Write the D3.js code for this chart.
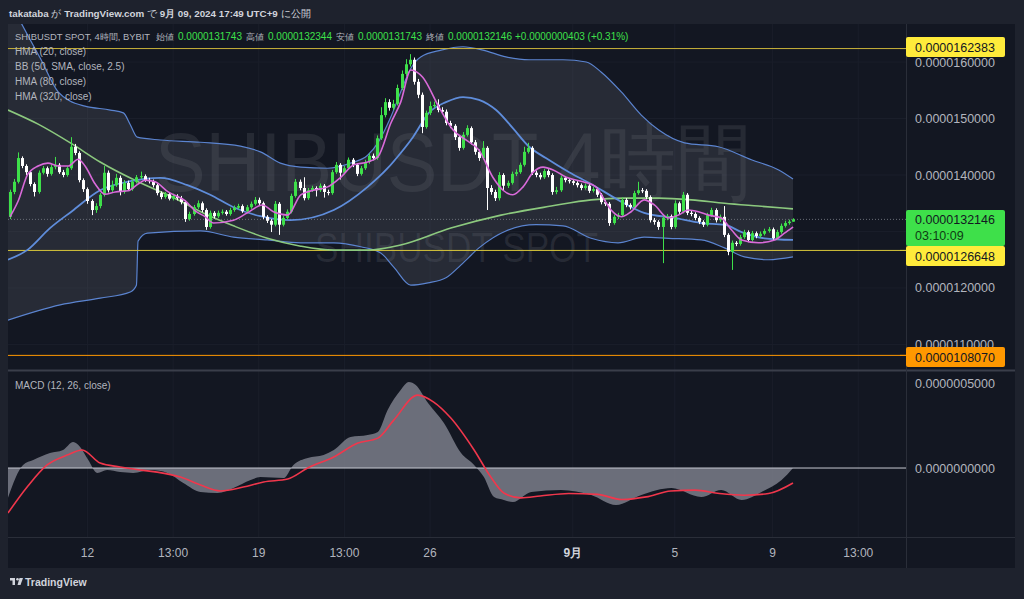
<!DOCTYPE html>
<html>
<head>
<meta charset="utf-8">
<script src="https://cdn.jsdelivr.net/npm/d3@7"></script>
<style>
  html, body { margin: 0; padding: 0; background: #1e222d; }
  svg { display: block; }
  text { font-family: "Liberation Sans", Arial, sans-serif; }
</style>
</head>
<body>
<div id="chart"></div>
<script>
// ─── Data (prices in units of 1e-6, MACD in units of 1e-7) ───────────────

// 4h candles, index 0 = Aug 8 21:00 ... 192 = Sep 9 17:00 (UTC+9)
const firstOpen = 13.26;
const closes = [
  13.70, 13.88, 14.30, 14.16, 14.05, 13.84, 13.70, 14.04, 14.12, 14.02,
  14.14, 14.18, 14.05, 14.00, 14.12, 14.50, 14.39, 13.91, 13.75, 13.54,
  13.38, 13.45, 13.65, 14.04, 13.73, 13.82, 13.95, 13.70, 13.86, 13.75,
  13.88, 13.96, 13.98, 13.91, 13.89, 13.82, 13.68, 13.61, 13.66, 13.58,
  13.63, 13.59, 13.52, 13.22, 13.31, 13.43, 13.50, 13.38, 13.08, 13.33,
  13.27, 13.33, 13.35, 13.31, 13.38, 13.42, 13.45, 13.36, 13.43, 13.49,
  13.56, 13.50, 13.26, 13.19, 13.12, 13.49, 13.12, 13.24, 13.35, 13.63,
  13.88, 13.77, 13.59, 13.73, 13.77, 13.73, 13.81, 13.70, 13.68, 14.05,
  14.18, 14.04, 14.12, 14.27, 14.18, 14.02, 14.12, 14.23, 14.34, 14.30,
  14.65, 15.06, 15.29, 15.19, 15.26, 15.54, 15.79, 15.96, 16.04, 15.65,
  15.42, 14.85, 15.10, 15.22, 15.24, 15.15, 15.12, 14.92, 14.87, 14.67,
  14.48, 14.71, 14.83, 14.58, 14.41, 14.30, 14.48, 13.77, 13.70, 13.59,
  14.00, 13.81, 13.86, 14.02, 14.05, 14.18, 14.41, 14.48, 14.04, 14.00,
  13.96, 14.07, 14.00, 13.70, 13.73, 13.95, 13.91, 13.89, 13.86, 13.82,
  13.77, 13.81, 13.72, 13.75, 13.65, 13.52, 13.49, 13.15, 13.26, 13.29,
  13.56, 13.47, 13.43, 13.68, 13.73, 13.72, 13.61, 13.20, 13.17, 13.08,
  13.24, 13.27, 13.08, 13.50, 13.35, 13.65, 13.33, 13.31, 13.24, 13.17,
  13.12, 13.29, 13.38, 13.20, 13.26, 12.94, 12.64, 12.80, 12.78, 12.90,
  12.99, 12.85, 12.97, 12.92, 12.96, 13.01, 13.04, 12.88, 12.99, 13.10,
  13.15, 13.1743, 13.2146
];
const highs = [
  13.74, 13.93, 14.40, 14.33, 14.19, 14.08, 13.87, 14.08, 14.16, 14.15,
  14.18, 14.32, 14.21, 14.09, 14.15, 14.67, 14.55, 14.42, 13.94, 13.78,
  13.57, 13.50, 13.68, 14.16, 14.08, 13.90, 14.02, 13.99, 13.91, 13.90,
  13.93, 14.00, 14.06, 14.01, 13.95, 13.92, 13.85, 13.71, 13.70, 13.69,
  13.67, 13.66, 13.63, 13.55, 13.35, 13.47, 13.55, 13.53, 13.41, 13.37,
  13.36, 13.37, 13.39, 13.38, 13.42, 13.46, 13.49, 13.48, 13.47, 13.53,
  13.61, 13.60, 13.53, 13.29, 13.22, 13.54, 13.52, 13.28, 13.39, 13.67,
  13.93, 13.92, 13.96, 13.77, 13.81, 13.80, 13.85, 13.84, 13.74, 14.09,
  14.23, 14.21, 14.16, 14.31, 14.30, 14.21, 14.16, 14.27, 14.38, 14.38,
  14.70, 15.20, 15.36, 15.34, 15.33, 15.60, 15.85, 16.05, 16.14, 16.08,
  15.70, 15.46, 15.14, 15.30, 15.30, 15.34, 15.20, 15.16, 14.96, 14.90,
  14.70, 14.76, 14.88, 14.86, 14.62, 14.45, 14.60, 14.51, 13.82, 13.74,
  14.05, 14.03, 13.90, 14.06, 14.10, 14.22, 14.50, 14.57, 14.51, 14.08,
  14.04, 14.11, 14.10, 14.03, 13.79, 13.99, 13.98, 13.94, 13.92, 13.89,
  13.85, 13.85, 13.84, 13.79, 13.78, 13.68, 13.56, 13.52, 13.30, 13.33,
  13.60, 13.59, 13.50, 13.72, 13.88, 13.77, 13.75, 13.64, 13.24, 13.20,
  13.28, 13.31, 13.30, 13.55, 13.53, 13.70, 13.68, 13.37, 13.34, 13.27,
  13.20, 13.33, 13.42, 13.41, 13.30, 13.45, 12.97, 12.84, 12.83, 12.94,
  13.03, 13.02, 13.01, 13.00, 13.00, 13.05, 13.08, 13.07, 13.03, 13.14,
  13.19, 13.21, 13.2344
];
const lows = [
  13.22, 13.66, 13.85, 14.12, 14.00, 13.80, 13.62, 13.67, 14.01, 13.97,
  13.99, 14.10, 14.02, 13.96, 13.97, 14.09, 14.35, 13.87, 13.70, 13.49,
  13.29, 13.33, 13.41, 13.62, 13.69, 13.70, 13.79, 13.64, 13.67, 13.72,
  13.72, 13.85, 13.93, 13.88, 13.85, 13.78, 13.64, 13.57, 13.58, 13.55,
  13.55, 13.55, 13.48, 13.17, 13.19, 13.28, 13.40, 13.34, 13.03, 13.05,
  13.23, 13.24, 13.30, 13.28, 13.28, 13.35, 13.39, 13.33, 13.33, 13.40,
  13.46, 13.47, 13.22, 13.15, 12.99, 13.09, 12.94, 13.09, 13.21, 13.32,
  13.60, 13.73, 13.55, 13.56, 13.70, 13.62, 13.70, 13.60, 13.64, 13.65,
  14.02, 13.92, 14.01, 14.09, 14.14, 13.98, 13.99, 14.09, 14.20, 14.26,
  14.27, 14.62, 15.02, 15.14, 15.15, 15.23, 15.50, 15.75, 15.92, 15.60,
  15.36, 14.74, 14.82, 15.06, 15.19, 15.11, 15.08, 14.88, 14.83, 14.62,
  14.43, 14.45, 14.68, 14.54, 14.36, 14.25, 14.27, 13.38, 13.65, 13.54,
  13.55, 13.72, 13.77, 13.83, 13.98, 14.02, 14.15, 14.38, 14.00, 13.96,
  13.92, 13.93, 13.96, 13.65, 13.66, 13.70, 13.87, 13.85, 13.82, 13.78,
  13.73, 13.74, 13.68, 13.69, 13.61, 13.48, 13.45, 13.10, 13.12, 13.22,
  13.26, 13.43, 13.39, 13.40, 13.65, 13.68, 13.57, 13.16, 13.12, 13.03,
  12.44, 13.20, 13.04, 13.05, 13.31, 13.32, 13.29, 13.27, 13.20, 13.13,
  13.08, 13.09, 13.26, 13.16, 13.17, 12.90, 12.58, 12.32, 12.74, 12.75,
  12.87, 12.81, 12.82, 12.88, 12.89, 12.93, 12.98, 12.84, 12.85, 12.96,
  13.07, 13.12, 13.1743
];

// Indicator lines as [candle index, value]
const bbUpper = [
  [-0.5, 17.15], [2.9, 16.67], [7.4, 16.07], [11.8, 15.47], [14.7, 15.31], [18.4, 15.22],
  [24.6, 15.15], [27.8, 15.10], [29.5, 14.89], [31.2, 14.67], [36.9, 14.62], [46.7, 14.58],
  [56.5, 14.51], [61.4, 14.41], [66.3, 14.21], [71.3, 14.14], [77.9, 14.12], [83.5, 14.21],
  [87.7, 14.35], [90.2, 14.57], [93.4, 15.03], [95.8, 15.47], [98.3, 15.89], [100.7, 16.09],
  [105.7, 16.21], [111.1, 16.27], [116, 16.21], [121.6, 16.09], [127.3, 16.04], [135.6, 16.04],
  [141.3, 16.00], [145, 15.82], [149.9, 15.47], [154.8, 15.06], [159, 14.80], [165.4, 14.57],
  [173.7, 14.50], [181.8, 14.27], [188.5, 14.09], [192, 13.93]
];
const bbLower = [
  [-0.5, 11.43], [12.3, 11.70], [22.1, 11.82], [29.5, 11.93], [31, 12.05], [31.4, 12.83],
  [33.7, 12.97], [46.7, 13.01], [54.8, 12.90], [63.1, 12.85], [71.3, 12.80], [79.4, 12.80],
  [86, 12.73], [90.9, 12.62], [94.1, 12.37], [98.3, 12.05], [102.5, 12.09], [106.9, 12.18],
  [110.6, 12.41], [115, 12.71], [121.6, 13.01], [129, 13.12], [135.6, 13.10], [142.5, 12.88],
  [149.1, 12.80], [155.5, 12.90], [161.4, 12.88], [169.5, 12.85], [175.2, 12.71], [180.1, 12.55],
  [186, 12.50], [192, 12.55]
];
const hma80 = [
  [-0.5, 12.50], [4.2, 12.67], [9.8, 13.06], [15.2, 13.36], [22.1, 13.73], [29.5, 13.89],
  [36.9, 13.95], [43.5, 13.82], [49.1, 13.65], [54.8, 13.43], [61.4, 13.27], [68.8, 13.20],
  [79.4, 13.38], [87.7, 13.79], [92.6, 14.12], [95.8, 14.39], [98.8, 14.67], [102.7, 15.10],
  [106.9, 15.29], [111.1, 15.38], [115, 15.33], [119.2, 15.15], [123.3, 14.83], [127.3, 14.50],
  [131.4, 14.30], [137.1, 14.05], [143, 13.82], [149.1, 13.56], [155.5, 13.33], [162.9, 13.24],
  [169.5, 13.15], [175.2, 13.12], [179.4, 12.99], [185, 12.88], [192, 12.85]
];
const hma320 = [
  [-0.5, 15.15], [6.9, 14.90], [15.2, 14.55], [22.1, 14.23], [31.4, 13.88], [39.8, 13.61],
  [47.9, 13.31], [54.8, 13.10], [63.1, 12.88], [71.3, 12.74], [79.4, 12.67], [87.7, 12.67],
  [95.8, 12.76], [108.1, 13.06], [120.4, 13.29], [132.7, 13.45], [142.5, 13.56], [150.6, 13.59],
  [159, 13.59], [167.1, 13.56], [175.2, 13.50], [183.5, 13.45], [192, 13.40]
];
const hma20 = [
  [0, 13.26], [2, 13.54], [4.4, 14.02], [6.9, 14.16], [9.3, 14.21], [11.8, 14.16],
  [14.3, 14.16], [16.7, 14.28], [18.4, 14.16], [20.9, 13.84], [23.3, 13.66], [25.8, 13.70],
  [29, 13.72], [31.4, 13.84], [33.2, 13.91], [35.6, 13.88], [38.8, 13.70], [43, 13.54],
  [45.5, 13.36], [47.9, 13.26], [49.9, 13.15], [54.8, 13.20], [58.2, 13.33], [61.9, 13.47],
  [64.6, 13.35], [68.1, 13.29], [71.3, 13.65], [74.4, 13.73], [77.9, 13.79], [81.1, 13.96],
  [84.3, 14.18], [87.7, 14.23], [90.2, 14.32], [93.4, 14.92], [95.8, 15.29], [98.3, 15.86],
  [101.2, 15.73], [105.2, 15.20], [108.6, 14.80], [111.8, 14.62], [115, 14.44], [118.4, 13.96],
  [120.9, 13.73], [123.3, 13.65], [125.8, 13.79], [128.3, 14.05], [130.7, 14.14], [133.2, 14.09],
  [136.4, 13.96], [140.5, 13.88], [143.7, 13.79], [145, 13.65], [147.4, 13.38], [149.9, 13.26],
  [152.3, 13.35], [155.5, 13.56], [158, 13.47], [161.4, 13.24], [163.9, 13.29], [166.3, 13.38],
  [168.8, 13.35], [171.3, 13.29], [174.4, 13.24], [176.9, 13.03], [179.4, 12.85], [183.5, 12.80],
  [187.5, 12.85], [189.9, 12.97], [192, 13.08]
];

// MACD (12, 26, close): MACD line (grey area) and signal (red)
const macdLine = [
  [-0.5, -1.76], [3.2, 0.18], [5.7, 0.47], [9.8, 0.88], [13, 1.06], [15.5, 1.53],
  [17.2, 1.24], [19.2, 0.47], [21.4, -0.29], [23.8, -0.12], [27, -0.24], [30.2, -0.29],
  [34.4, -0.12], [38.6, -0.29], [42.5, -0.88], [46.7, -1.41], [50.9, -1.47], [54.8, -1.18],
  [59, -0.71], [61.4, -0.53], [67.1, -0.59], [69.5, 0.18], [73, 0.59], [76.9, 0.76],
  [79.4, 1.06], [83.5, 1.82], [87.7, 1.94], [90.2, 2.12], [92.6, 3.41], [95.8, 4.59],
  [97.8, 5.06], [99.5, 4.88], [102.5, 3.82], [106.4, 2.65], [110.6, 0.88], [113.8, 0.18],
  [116.2, -0.53], [118.7, -1.71], [121.1, -1.88], [123.3, -2.00], [127.8, -1.41], [135.1, -1.29],
  [142.5, -1.59], [148.6, -2.18], [154.8, -1.59], [162.2, -1.18], [169.5, -1.71], [174.4, -1.29],
  [179.4, -1.88], [184.3, -1.41], [189.2, -0.71], [192, 0.0]
];
const macdSignal = [
  [-0.5, -2.65], [4.2, -1.12], [9.1, 0.18], [14, 0.76], [17.7, 1.06], [22.1, 0.29],
  [27, 0.06], [31.9, -0.12], [36.1, -0.24], [41.8, -0.53], [46.7, -1.00], [51.6, -1.35],
  [57.2, -1.12], [62.2, -0.82], [68.1, -0.65], [73, 0.0], [79.4, 0.65], [85.3, 1.47],
  [90.2, 1.76], [94.1, 2.82], [100, 4.29], [103.9, 3.88], [108.1, 2.94], [113.8, 1.06],
  [117.9, -0.53], [121.1, -1.47], [125.3, -1.76], [130, -1.65], [137, -1.50], [144, -1.55],
  [150, -1.85], [156, -1.70], [162, -1.35], [168, -1.30], [174, -1.50], [180, -1.60],
  [186, -1.50], [192, -0.88]
];

// Axis ticks (the 0.0000130000 label sits under the last-price tag, so it is not drawn)
const priceTicks = [11, 12, 13, 14, 15, 16];
const priceTickHidden = [13];
const macdTicks = [0, 5];
const timeTickIdx = [19, 40, 61, 82, 103, 138, 163, 187, 208];
const timeTickLabels = ["12", "13:00", "19", "13:00", "26", "9月", "5", "9", "13:00"];

// Legend row: symbol, OHLC, change
const ohlcKeys = ["始値", "高値", "安値", "終値"];
const ohlcValues = ["0.0000131743", "0.0000132344", "0.0000131743", "0.0000132146"];
const changeText = "+0.0000000403 (+0.31%)";
const studyNames = ["HMA (20, close)", "BB (50, SMA, close, 2.5)", "HMA (80, close)", "HMA (320, close)"];

// Horizontal levels and last price
const levels = [
  { value: 16.2383, color: "#c9b23a", box: "#ffeb3b", labelY: 47 },
  { value: 12.6648, color: "#d8c63a", box: "#ffeb3b", labelY: 256 },
  { value: 10.8070, color: "#ff9800", box: "#ff9800", labelY: 357 }
];
const lastPrice = 13.2146;
const countdown = "03:10:09";

// ─── Layout ──────────────────────────────────────────────────

const W = 1024, H = 599;
const pane = { left: 8, right: 906, top: 24, mainBottom: 369, macdTop: 371, macdBottom: 537, axisBottom: 568 };
const fmt = (v, unit) => (v * unit).toFixed(10);

const svg = d3.select("#chart").append("svg").attr("width", W).attr("height", H);

// Backgrounds
svg.append("rect").attr("width", W).attr("height", H).attr("fill", "#1e222d");
svg.append("rect").attr("x", pane.left).attr("y", pane.top)
  .attr("width", 1015 - pane.left).attr("height", pane.axisBottom - pane.top).attr("fill", "#131722");

const x = d3.scaleLinear().domain([0, 192]).range([10, 793]);
const y = d3.scaleLinear().domain([10.566, 16.673]).range([pane.mainBottom, pane.top]);
const ym = d3.scaleLinear().domain([-4.06, 5.71]).range([pane.macdBottom, pane.macdTop]);

const defs = svg.append("defs");
defs.append("clipPath").attr("id", "clipMain").append("rect")
  .attr("x", pane.left).attr("y", pane.top).attr("width", pane.right - pane.left).attr("height", pane.mainBottom - pane.top);
defs.append("clipPath").attr("id", "clipMacd").append("rect")
  .attr("x", pane.left).attr("y", pane.macdTop).attr("width", pane.right - pane.left).attr("height", pane.macdBottom - pane.macdTop);

// Faint grid
const grid = svg.append("g").attr("stroke", "#1a1e2a").attr("stroke-width", 1);
timeTickIdx.forEach((i) => {
  grid.append("line").attr("x1", x(i)).attr("x2", x(i)).attr("y1", pane.top).attr("y2", pane.macdBottom);
});
priceTicks.forEach((t) => {
  grid.append("line").attr("x1", pane.left).attr("x2", pane.right).attr("y1", y(t)).attr("y2", y(t));
});

// ─── Main pane ───────────────────────────────────────────────

const main = svg.append("g").attr("clip-path", "url(#clipMain)");

// Watermark
main.append("text").attr("x", 155).attr("y", 191).attr("font-size", 84)
  .attr("textLength", 597).attr("lengthAdjust", "spacingAndGlyphs")
  .attr("fill", "rgba(178,181,190,0.12)").text("SHIBUSDT 4時間");
main.append("text").attr("x", 315).attr("y", 262).attr("font-size", 42)
  .attr("textLength", 283).attr("lengthAdjust", "spacingAndGlyphs")
  .attr("fill", "rgba(178,181,190,0.12)").text("SHIBUSDT SPOT");

const lineGen = (ys) => d3.line().x((d) => x(d[0])).y((d) => ys(d[1])).curve(d3.curveMonotoneX);

// Bollinger band fill: upper edge forward, lower edge back
const upperPath = lineGen(y)(bbUpper);
const lowerBack = lineGen(y)(bbLower.slice().reverse());
main.append("path")
  .attr("d", upperPath + "L" + lowerBack.slice(1) + "Z")
  .attr("fill", "#787b86").attr("fill-opacity", 0.2);

main.append("path").datum(bbUpper).attr("d", lineGen(y)).attr("fill", "none")
  .attr("stroke", "#5b84d0").attr("stroke-width", 1.2);
main.append("path").datum(bbLower).attr("d", lineGen(y)).attr("fill", "none")
  .attr("stroke", "#5b84d0").attr("stroke-width", 1.2);

// Levels
levels.forEach((l) => {
  main.append("line").attr("x1", pane.left).attr("x2", pane.right)
    .attr("y1", y(l.value)).attr("y2", y(l.value))
    .attr("stroke", l.color).attr("stroke-width", 1);
});
main.append("line").attr("x1", pane.left).attr("x2", pane.right)
  .attr("y1", y(lastPrice)).attr("y2", y(lastPrice))
  .attr("stroke", "#6a6d78").attr("stroke-width", 1).attr("stroke-dasharray", "1,2");

// Moving averages
main.append("path").datum(hma320).attr("d", lineGen(y)).attr("fill", "none")
  .attr("stroke", "#8cc97e").attr("stroke-width", 1.6);
main.append("path").datum(hma80).attr("d", lineGen(y)).attr("fill", "none")
  .attr("stroke", "#5f8ddb").attr("stroke-width", 1.8);

// Candles (open = previous close)
const candles = closes.map((c, i) => ({
  i,
  open: i === 0 ? firstOpen : closes[i - 1],
  close: c,
  high: highs[i],
  low: lows[i]
}));
const upColor = "#3ee04a", downColor = "#ffffff";
const cg = main.append("g");
cg.selectAll("line.wick").data(candles).enter().append("line")
  .attr("x1", (d) => Math.round(x(d.i)) + 0.5).attr("x2", (d) => Math.round(x(d.i)) + 0.5)
  .attr("y1", (d) => y(d.high)).attr("y2", (d) => y(d.low))
  .attr("stroke", (d) => (d.close >= d.open ? upColor : downColor)).attr("stroke-width", 1);
cg.selectAll("rect.body").data(candles).enter().append("rect")
  .attr("x", (d) => Math.round(x(d.i)) - 1)
  .attr("y", (d) => y(Math.max(d.open, d.close)))
  .attr("width", 3)
  .attr("height", (d) => Math.max(1, Math.abs(y(d.open) - y(d.close))))
  .attr("fill", (d) => (d.close >= d.open ? upColor : downColor));

main.append("path").datum(hma20).attr("d", lineGen(y)).attr("fill", "none")
  .attr("stroke", "#d96ad9").attr("stroke-width", 1.6);

// Legend
const legend = svg.append("g").attr("font-size", 10.5).attr("fill", "#b2b5be");
legend.append("text").attr("x", 15).attr("y", 40).attr("font-size", 9.4)
  .text("SHIBUSDT SPOT, 4時間, BYBIT");
ohlcKeys.forEach((k, n) => {
  const x0 = 156 + n * 90;
  legend.append("text").attr("x", x0).attr("y", 40).attr("font-size", 9).text(k);
  legend.append("text").attr("x", x0 + 22).attr("y", 40).attr("fill", "#3ee04a")
    .attr("font-size", 10).text(ohlcValues[n]);
});
legend.append("text").attr("x", 515).attr("y", 40).attr("fill", "#3ee04a").attr("font-size", 10)
  .text(changeText);
studyNames.forEach((t, k) => legend.append("text").attr("x", 15).attr("y", 55 + k * 15)
  .attr("font-size", 10).text(t));

// ─── MACD pane ───────────────────────────────────────────────

const macd = svg.append("g").attr("clip-path", "url(#clipMacd)");
macd.append("path").datum(macdLine)
  .attr("d", d3.area().x((d) => x(d[0])).y0(ym(0)).y1((d) => ym(d[1])).curve(d3.curveMonotoneX))
  .attr("fill", "#7b7e89").attr("fill-opacity", 0.85);
macd.append("line").attr("x1", pane.left).attr("x2", pane.right)
  .attr("y1", ym(0)).attr("y2", ym(0)).attr("stroke", "#c8cad2").attr("stroke-width", 1);
macd.append("path").datum(macdSignal).attr("d", lineGen(ym)).attr("fill", "none")
  .attr("stroke", "#f0374c").attr("stroke-width", 1.6);
svg.append("text").attr("x", 15).attr("y", 389).attr("font-size", 10).attr("fill", "#b2b5be")
  .text("MACD (12, 26, close)");

// Pane separators
svg.append("line").attr("x1", pane.left).attr("x2", 1015).attr("y1", 370.5).attr("y2", 370.5)
  .attr("stroke", "#3a3e4a").attr("stroke-width", 2);
svg.append("line").attr("x1", pane.left).attr("x2", 1015).attr("y1", pane.macdBottom + 0.5).attr("y2", pane.macdBottom + 0.5)
  .attr("stroke", "#2a2e39");
svg.append("line").attr("x1", pane.right + 0.5).attr("x2", pane.right + 0.5).attr("y1", pane.top).attr("y2", pane.axisBottom)
  .attr("stroke", "#2a2e39");

// ─── Price axes ──────────────────────────────────────────────

const axisG = svg.append("g").attr("font-size", 12.5).attr("fill", "#b2b5be");
priceTicks.filter((t) => !priceTickHidden.includes(t)).forEach((t) => {
  axisG.append("text").attr("x", 915).attr("y", y(t) + 4.5).text(fmt(t, 1e-6));
});
macdTicks.forEach((t) => {
  axisG.append("text").attr("x", 915).attr("y", ym(t) + 4.5).text(fmt(t, 1e-7));
});

// Level labels
levels.forEach((l) => {
  svg.append("line").attr("x1", 900).attr("x2", 906).attr("y1", y(l.value)).attr("y2", y(l.value))
    .attr("stroke", l.color);
  svg.append("rect").attr("x", 906).attr("y", l.labelY - 10).attr("width", 99).attr("height", 20)
    .attr("rx", 2).attr("fill", l.box);
  svg.append("text").attr("x", 915).attr("y", l.labelY + 4.5).attr("font-size", 12.5)
    .attr("fill", "#131722").text(fmt(l.value, 1e-6));
});
svg.append("rect").attr("x", 906).attr("y", 210).attr("width", 99).attr("height", 36)
  .attr("rx", 2).attr("fill", "#3ee04a");
svg.append("text").attr("x", 915).attr("y", y(lastPrice) + 4.5).attr("font-size", 12.5)
  .attr("fill", "#131722").text(fmt(lastPrice, 1e-6));
svg.append("text").attr("x", 915).attr("y", 240).attr("font-size", 12.5)
  .attr("fill", "#0f3d14").text(countdown);

// ─── Time axis ───────────────────────────────────────────────

const tg = svg.append("g").attr("font-size", 12).attr("fill", "#b2b5be").attr("text-anchor", "middle");
timeTickIdx.forEach((i, k) => {
  tg.append("text").attr("x", x(i)).attr("y", 557)
    .attr("font-weight", timeTickLabels[k] === "9月" ? "bold" : "normal")
    .attr("fill", timeTickLabels[k] === "9月" ? "#d1d4dc" : "#b2b5be")
    .text(timeTickLabels[k]);
});

// ─── Header & footer ─────────────────────────────────────────

const header = svg.append("text").attr("x", 9).attr("y", 16.5).attr("font-size", 9.8).attr("fill", "#d1d4dc");
header.append("tspan").attr("font-weight", "bold").text("takataba");
header.append("tspan").text(" が ");
header.append("tspan").attr("font-weight", "bold").text("TradingView.com");
header.append("tspan").text(" で ");
header.append("tspan").attr("font-weight", "bold").text("9月 09, 2024 17:49 UTC+9");
header.append("tspan").text(" に公開");

const logo = svg.append("g").attr("fill", "#d1d4dc");
logo.append("rect").attr("x", 10).attr("y", 578).attr("width", 5).attr("height", 2.5);
logo.append("rect").attr("x", 12.5).attr("y", 578).attr("width", 2.5).attr("height", 7);
logo.append("circle").attr("cx", 17.5).attr("cy", 579.3).attr("r", 1.3);
logo.append("path").attr("d", "M19.5,578 L23,578 L20.5,585 L17.5,585 Z");
svg.append("text").attr("x", 25).attr("y", 585.5).attr("font-size", 10.5).attr("font-weight", "bold")
  .attr("fill", "#d1d4dc").text("TradingView");
</script>
</body>
</html>
